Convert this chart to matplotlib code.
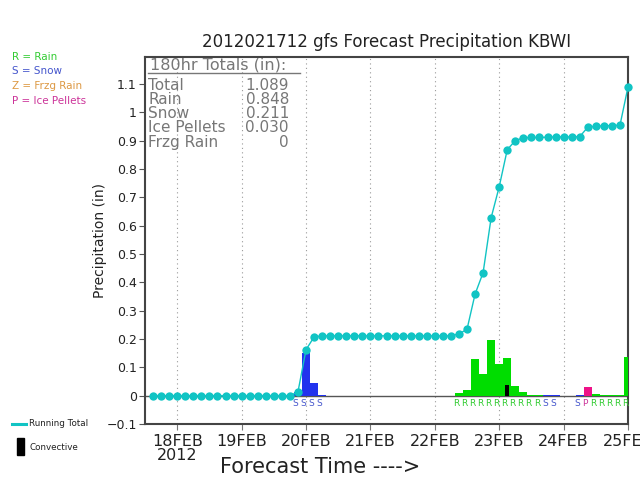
import matplotlib
matplotlib.use('Agg')
import matplotlib.pyplot as plt
from matplotlib.lines import Line2D
from matplotlib.patches import Rectangle

# ---- data ----
hours = list(range(3, 181, 3))
running_total = [0, 0, 0, 0, 0, 0, 0, 0, 0, 0, 0, 0, 0, 0, 0, 0, 0, 0,
                 0.013, 0.162, 0.207, 0.211,
                 0.211, 0.211, 0.211, 0.211, 0.211, 0.211, 0.211, 0.211,
                 0.211, 0.211, 0.211, 0.211, 0.211, 0.211, 0.211, 0.211,
                 0.218, 0.234, 0.358, 0.434, 0.628, 0.737, 0.868, 0.900,
                 0.910, 0.911, 0.911, 0.912, 0.913, 0.913, 0.913, 0.914,
                 0.947, 0.951, 0.952, 0.953, 0.954, 1.089]

snow_hours = [57, 60, 63, 66, 150, 153, 162]
snow_vals = [0.014, 0.152, 0.045, 0.004, 0.001, 0.001, 0.002]
rain_hours = [117, 120, 123, 126, 129, 132, 135, 138, 141, 144, 147,
              168, 171, 174, 177, 180]
rain_vals = [0.008, 0.020, 0.128, 0.078, 0.198, 0.113, 0.133, 0.034, 0.014,
             0.002, 0.001, 0.006, 0.002, 0.002, 0.002, 0.136]
ice_hours = [165]
ice_vals = [0.032]
conv_hours = [135]
conv_vals = [0.036]

type_hours = [57, 60, 63, 66,
              117, 120, 123, 126, 129, 132, 135, 138, 141, 144, 147, 150, 153,
              162, 165, 168, 171, 174, 177, 180]
type_codes = "SSSS" + "RRRRRRRRRRRSS" + "SPRRRRR"

day_ticks = [12, 36, 60, 84, 108, 132, 156, 180]
day_labels = ["18FEB\n2012", "19FEB", "20FEB", "21FEB", "22FEB", "23FEB",
              "24FEB", "25FEB"]
y_ticks = [-0.1, 0, 0.1, 0.2, 0.3, 0.4, 0.5, 0.6, 0.7, 0.8, 0.9, 1, 1.1]
y_labels = ["\u22120.1", "0", "0.1", "0.2", "0.3", "0.4", "0.5", "0.6",
            "0.7", "0.8", "0.9", "1", "1.1"]

totals_names = ["Total", "Rain", "Snow", "Ice Pellets", "Frzg Rain"]
totals_vals = ["1.089", "0.848", "0.211", "0.030", "0"]

legend_items = [("R = Rain", "#33cc33"), ("S = Snow", "#4455cc"),
                ("Z = Frzg Rain", "#dd9944"), ("P = Ice Pellets", "#cc3399")]

# ---- colors ----
C_RAIN = "#00dd00"
C_SNOW = "#2233ee"
C_ICE = "#ee1188"
C_CYAN = "#11c4c4"
C_TXT = "#222222"
code_color = {"R": "#33cc33", "S": "#4455cc", "P": "#cc3399", "Z": "#dd9944"}

plt.rcParams['font.family'] = ['DejaVu Sans']

W, H = 640, 480
fig = plt.figure(figsize=(6.4, 4.8), dpi=100)
L, R_, T, B = 145, 628, 57, 424
ax = fig.add_axes([L / W, 1 - B / H, (R_ - L) / W, (B - T) / H])

def px(x, y):
    return x / W, 1 - y / H

# bars
bw = 3.0
ax.bar(snow_hours, snow_vals, width=bw, color=C_SNOW, zorder=3)
ax.bar(rain_hours, rain_vals, width=bw, color=C_RAIN, zorder=3)
ax.bar(ice_hours, ice_vals, width=bw, color=C_ICE, zorder=3)
ax.bar(conv_hours, conv_vals, width=1.6, color="black", zorder=4)

ax.axhline(0, color="#555555", lw=1.0, zorder=2)

# running total
ax.plot(hours, running_total, color=C_CYAN, lw=1.0, marker="o",
        markersize=6, markeredgewidth=0, zorder=5, clip_on=False)

# type letters
for h, c in zip(type_hours, type_codes):
    ax.text(h - 1.0, -0.012, c, color=code_color[c], fontsize=6.5,
            ha="center", va="top", zorder=6)

ax.set_xlim(0, 180)
ax.set_ylim(-0.1, 1.195)
ax.set_xticks(day_ticks)
ax.set_xticklabels(day_labels, fontsize=11.5, color=C_TXT, linespacing=0.95)
ax.set_yticks(y_ticks)
ax.set_yticklabels(y_labels, fontsize=9, color=C_TXT)
ax.tick_params(axis="x", length=4, color="#777777", pad=3)
ax.tick_params(axis="y", length=4, color="#555555", pad=2)
for lbl in ax.get_xticklabels():
    lbl.set_horizontalalignment("center")
    lbl.set_multialignment("center")
ax.grid(axis="x", linestyle=(0, (1, 3)), color="#999999", lw=0.8)
for s in ax.spines.values():
    s.set_color("#444444")
    s.set_linewidth(1.5)

ax.set_ylabel("Precipitation (in)", fontsize=10, color=C_TXT)
ax.yaxis.set_label_coords((107 - L) / (R_ - L), 0.5)

fig.text(*px(387, 42), "2012021712 gfs Forecast Precipitation KBWI",
         fontsize=12, ha="center", va="center", color=C_TXT)
fig.text(*px(320, 467), "Forecast Time ---->", fontsize=15, ha="center",
         va="center", color=C_TXT)

# totals box
TG = "#777777"
fig.text(*px(150, 65), "180hr Totals (in):", fontsize=11.5, ha="left",
         va="center", color=TG)
fig.add_artist(Line2D([148 / W, 300 / W], [1 - 72.5 / H, 1 - 72.5 / H],
                      color=TG, lw=1.0))
for i, (n, v) in enumerate(zip(totals_names, totals_vals)):
    yy = 85 + i * 14.3
    fig.text(*px(148, yy), n, fontsize=11, ha="left", va="center", color=TG)
    fig.text(*px(289, yy), v, fontsize=11, ha="right", va="center", color=TG)

# left legend
for i, (t, c) in enumerate(legend_items):
    fig.text(*px(12, 57 + i * 14.5), t, fontsize=7.5, ha="left", va="center",
             color=c)

fig.add_artist(Line2D([12 / W, 26 / W], [1 - 424 / H, 1 - 424 / H],
                      color=C_CYAN, lw=2.2))
fig.text(*px(29, 424), "Running Total", fontsize=6.3, ha="left", va="center",
         color=C_TXT)
fig.add_artist(Rectangle(px(17, 455), 7 / W, 17 / H, color="black",
                         transform=fig.transFigure))
fig.text(*px(29, 447), "Convective", fontsize=6.3, ha="left", va="center",
         color=C_TXT)

fig.savefig("out.png", dpi=100)
